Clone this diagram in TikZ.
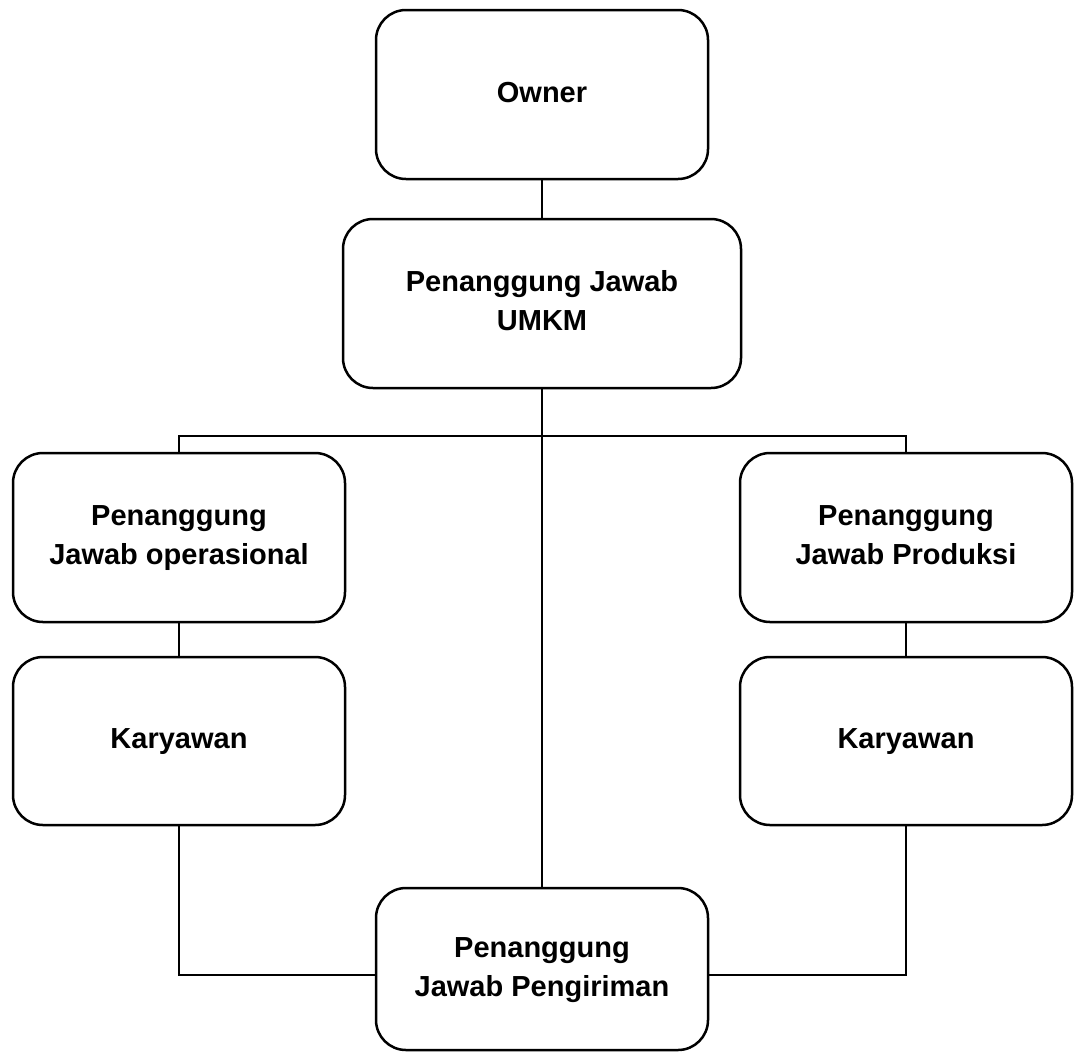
\documentclass[tikz,border=0pt]{standalone}
\usepackage{fontspec}
\setmainfont{Liberation Sans}
\begin{document}
\begin{tikzpicture}[x=1pt,y=-1pt,
  orgbox/.style={draw=black, rectangle, rounded corners=30pt, line width=2.5pt,
    minimum width=332pt, minimum height=169pt, align=center, inner sep=0pt,
    font=\bfseries\fontsize{29}{39}\selectfont},
  link/.style={draw=black, line width=1.1pt}]
\useasboundingbox (0,0) rectangle (1075,1053);
\node[orgbox] (owner) at (542,94.5) {\strut Owner};
\node[orgbox, minimum width=398pt] (umkm) at (542,303.5) {\strut Penanggung Jawab\\\strut UMKM};
\node[orgbox] (lop) at (179,537.5) {\strut Penanggung\\\strut Jawab operasional};
\node[orgbox] (rop) at (906,537.5) {\strut Penanggung\\\strut Jawab Produksi};
\node[orgbox, minimum height=168pt] (lk) at (179,741) {\strut Karyawan};
\node[orgbox, minimum height=168pt] (rk) at (906,741) {\strut Karyawan};
\node[orgbox, minimum height=162pt] (peng) at (542,969) {\strut Penanggung\\\strut Jawab Pengiriman};
\coordinate (bus) at (542,436);
\coordinate (lbot) at (376,975);
\coordinate (rbot) at (708,975);
\draw[link] (owner.south) -- (umkm.north);
\draw[link] (umkm.south) -- (peng.north);
\draw[link] (lop.north) |- (bus) -| (rop.north);
\draw[link] (lop.south) -- (lk.north);
\draw[link] (rop.south) -- (rk.north);
\draw[link] (lk.south) |- (lbot);
\draw[link] (rk.south) |- (rbot);
\end{tikzpicture}
\end{document}
